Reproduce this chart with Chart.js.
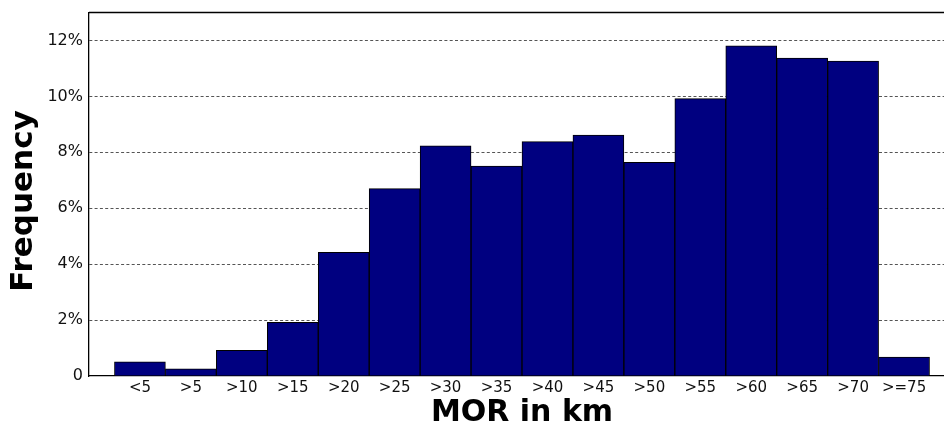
<!DOCTYPE html>
<html>
<head>
<meta charset="utf-8">
<script src="https://cdn.jsdelivr.net/npm/chart.js@4"></script>
<style>
  html, body { margin: 0; padding: 0; background: #fff; overflow: hidden; }
  #wrap { position: relative; width: 970px; height: 429px; }
</style>
</head>
<body>
<div id="wrap"><canvas id="c"></canvas></div>
<script>
const categories = ['<5', '>5', '>10', '>15', '>20', '>25', '>30', '>35', '>40', '>45', '>50', '>55', '>60', '>65', '>70', '>=75'];
const frequencies = [0.51, 0.26, 0.92, 1.92, 4.42, 6.70, 8.23, 7.51, 8.38, 8.62, 7.64, 9.92, 11.81, 11.37, 11.26, 0.68];
const yTickValues = [0, 2, 4, 6, 8, 10, 12];
const xTitle = 'MOR in km';
const yTitle = 'Frequency';

const FONT = '"DejaVu Sans", Verdana, sans-serif';

const extras = {
  id: 'extras',
  afterDraw(chart) {
    const { ctx, chartArea } = chart;
    ctx.save();
    ctx.strokeStyle = '#000';
    ctx.lineWidth = 1.3;
    ctx.beginPath();
    ctx.moveTo(chartArea.left, chartArea.top);
    ctx.lineTo(chartArea.right, chartArea.top);
    ctx.stroke();
    // y axis title
    ctx.translate(24, 201);
    ctx.rotate(-Math.PI / 2);
    ctx.fillStyle = '#000';
    ctx.font = 'bold 31px ' + FONT;
    ctx.textAlign = 'center';
    ctx.textBaseline = 'middle';
    ctx.fillText(yTitle, 0, 0);
    ctx.restore();
  }
};

new Chart(document.getElementById('c'), {
  type: 'bar',
  data: {
    datasets: [{
      data: frequencies.map((v, i) => ({ x: i, y: v })),
      backgroundColor: '#000080',
      borderColor: '#000000',
      borderWidth: 1,
      categoryPercentage: 1,
      barPercentage: 1
    }]
  },
  options: {
    responsive: true,
    maintainAspectRatio: false,
    animation: false,
    layout: { padding: { top: 12.5, right: 15, left: 0, bottom: 0 } },
    plugins: { legend: { display: false }, tooltip: { enabled: false } },
    scales: {
      x: {
        type: 'linear',
        offset: false,
        min: -1,
        max: categories.length,
        afterFit(scale) { scale.height = 53; scale.paddingLeft = 0; scale.paddingRight = 0; },
        afterBuildTicks(scale) {
          scale.ticks = categories.map((c, i) => ({ value: i }));
        },
        ticks: {
          autoSkip: false,
          maxRotation: 0,
          minRotation: 0,
          padding: 3,
          color: '#111',
          font: { family: FONT, size: 15 },
          callback: (v) => categories[v] !== undefined ? categories[v] : ''
        },
        grid: { display: true, color: 'rgba(0,0,0,0)', drawTicks: false },
        border: { display: true, color: '#000', width: 1.3 },
        title: {
          display: true,
          text: xTitle,
          color: '#000',
          font: { family: FONT, size: 30, weight: 'bold', lineHeight: 1 },
          padding: { top: 0, bottom: 1 }
        }
      },
      y: {
        min: 0,
        max: 13,
        afterFit(scale) { scale.width = 89; scale.paddingTop = 0; scale.paddingBottom = 0; },
        afterBuildTicks(scale) {
          scale.ticks = yTickValues.map(v => ({ value: v }));
        },
        ticks: {
          padding: 6,
          color: '#111',
          font: { family: FONT, size: 16 },
          callback: (v) => v === 0 ? '0' : v + '%'
        },
        grid: {
          drawTicks: false,
          lineWidth: 1,
          color: (ctx) => (ctx.tick && ctx.tick.value === 0) ? 'rgba(0,0,0,0)' : '#555'
        },
        border: { display: true, color: '#000', width: 1.3, dash: [3, 2.3] },
        title: { display: false }
      }
    }
  },
  plugins: [extras]
});
</script>
</body>
</html>
